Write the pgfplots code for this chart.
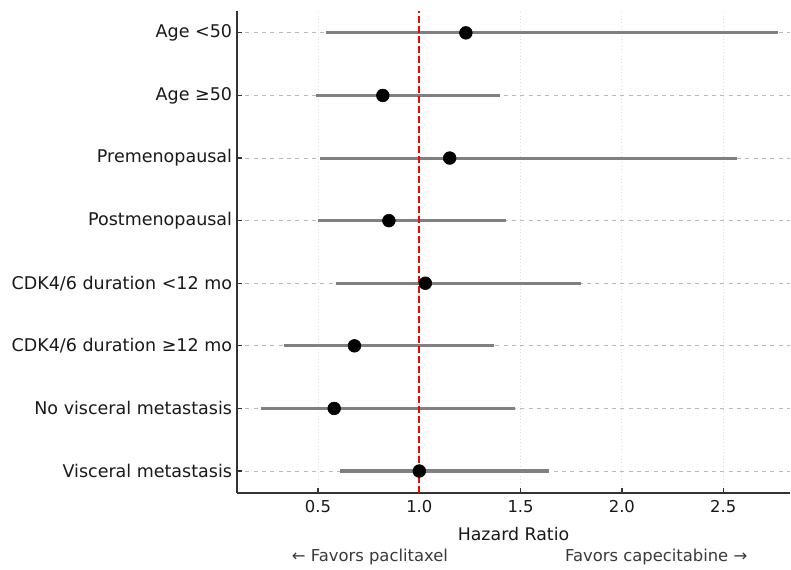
\documentclass[border=0pt]{standalone}
\usepackage{fontspec}
\setmainfont{DejaVu Sans}
\usepackage{pgfplots}
\usepackage{pgfplotstable}
\pgfplotsset{compat=1.18}

% rows from bottom (0) to top (7): hazard ratio with 95% CI
\pgfplotstableread{
pos hr lo hi
7 1.23 0.54 2.77
6 0.82 0.49 1.40
5 1.15 0.51 2.57
4 0.85 0.50 1.43
3 1.03 0.59 1.80
2 0.68 0.33 1.37
1 0.58 0.22 1.47
0 1.00 0.61 1.64
}\hrtable

\definecolor{cigray}{HTML}{808080}
\definecolor{spine}{HTML}{333333}
\definecolor{annot}{HTML}{3A3A3A}

\begin{document}
\begin{tikzpicture}
\begin{axis}[
    name=ax,
    scale only axis,
    width=398.2pt, height=347pt,
    xmin=0.10, xmax=2.83,
    ymin=-0.35, ymax=7.35,
    axis x line*=bottom, axis y line*=left,
    axis line style={spine, line width=0.9pt},
    xtick={0.5,1,1.5,2,2.5},
    xticklabels={0.5,1.0,1.5,2.0,2.5},
    ytick={0,1,2,3,4,5,6,7},
    yticklabels={Visceral metastasis, No visceral metastasis, CDK4/6 duration ≥12 mo, CDK4/6 duration <12 mo, Postmenopausal, Premenopausal, Age ≥50, Age <50},
    tick align=inside,
    major tick length=3.6pt,
    tick style={spine, line width=0.9pt},
    yticklabel style={font=\fontsize{12.6}{15}\selectfont, text=black!90},
    xticklabel style={font=\fontsize{11.8}{14}\selectfont, text=black!90, yshift=-2pt},
    grid=major,
    x grid style={gray!25, dotted, line width=0.7pt},
    y grid style={gray!55, dashed, line width=0.55pt},
    clip=false,
]
\addplot[draw=none, forget plot,
    error bars/.cd, x dir=both, x explicit, error mark=none,
    error bar style={draw=cigray, line width=2.2pt}]
  table[x=hr, y=pos,
        x error plus expr=\thisrow{hi}-\thisrow{hr},
        x error minus expr=\thisrow{hr}-\thisrow{lo}] {\hrtable};
\addplot[red, line width=1.4pt, dash pattern=on 5pt off 2.2pt]
  coordinates {(1,-0.35) (1,7.35)};
\addplot[only marks, mark=*, mark size=4.6pt, mark options={fill=black, draw=black}]
  table[x=hr, y=pos] {\hrtable};

\node[font=\fontsize{12.5}{15}\selectfont, text=black!90] at (axis description cs:0.5,0) [yshift=-29.5pt] {Hazard Ratio};
\node[font=\fontsize{11.8}{14}\selectfont, text=annot] at (axis description cs:0.2405,0) [yshift=-46pt] {← Favors paclitaxel};
\node[font=\fontsize{11.8}{14}\selectfont, text=annot] at (axis description cs:0.758,0) [yshift=-46pt] {Favors capecitabine →};
\end{axis}
\path ([shift={(-170.6pt,-49pt)}]ax.south west) rectangle ([shift={(0.7pt,7.9pt)}]ax.north east);
\end{tikzpicture}
\end{document}
